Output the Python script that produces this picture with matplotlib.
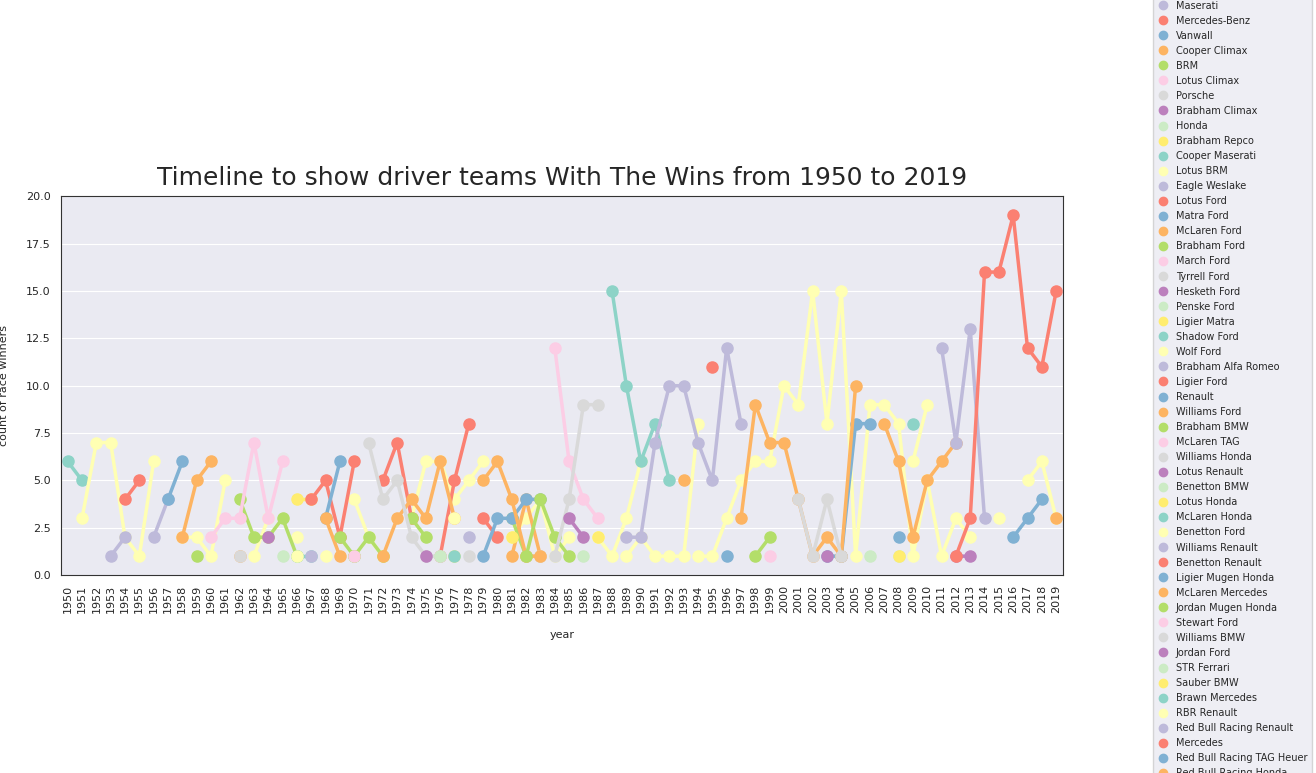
import matplotlib
matplotlib.use("Agg")
import matplotlib.pyplot as plt
import numpy as np
import seaborn as sns

sns.set_style("darkgrid")
plt.rcParams['font.family'] = ['DejaVu Sans']

years = list(range(1950, 2020))

# team -> {year: wins}
team_wins = {
    'Alfa Romeo': {1950: 6, 1951: 5},
    'Ferrari': {1951: 3, 1952: 7, 1953: 7, 1954: 2, 1955: 1, 1956: 6, 1958: 2, 1959: 2,
                1960: 1, 1961: 5, 1963: 1, 1964: 3, 1966: 2, 1968: 1, 1970: 4, 1971: 2,
                1972: 1, 1974: 3, 1975: 6, 1976: 6, 1977: 4, 1978: 5, 1979: 6, 1981: 2,
                1982: 3, 1983: 4, 1984: 1, 1985: 2, 1987: 2, 1988: 1, 1989: 3, 1990: 6,
                1994: 1, 1995: 1, 1996: 3, 1997: 5, 1998: 6, 1999: 6, 2000: 10, 2001: 9,
                2002: 15, 2003: 8, 2004: 15, 2005: 1, 2006: 9, 2007: 9, 2008: 8, 2009: 1,
                2010: 5, 2011: 1, 2012: 3, 2013: 2, 2015: 3, 2017: 5, 2018: 6, 2019: 3},
    'Maserati': {1953: 1, 1954: 2, 1956: 2, 1957: 4},
    'Mercedes-Benz': {1954: 4, 1955: 5},
    'Vanwall': {1957: 4, 1958: 6},
    'Cooper Climax': {1958: 2, 1959: 5, 1960: 6, 1962: 1},
    'BRM': {1959: 1, 1962: 4, 1963: 2, 1964: 2, 1965: 3, 1966: 1, 1970: 1, 1971: 2, 1972: 1},
    'Lotus Climax': {1960: 2, 1961: 3, 1962: 3, 1963: 7, 1964: 3, 1965: 6},
    'Porsche': {1962: 1},
    'Brabham Climax': {1964: 2},
    'Honda': {1965: 1, 2006: 1},
    'Brabham Repco': {1966: 4, 1967: 4},
    'Cooper Maserati': {1966: 1, 1967: 1},
    'Lotus BRM': {1966: 1},
    'Eagle Weslake': {1967: 1},
    'Lotus Ford': {1967: 4, 1968: 5, 1969: 2, 1970: 6, 1972: 5, 1973: 7, 1974: 3,
                   1976: 1, 1977: 5, 1978: 8},
    'Matra Ford': {1968: 3, 1969: 6},
    'McLaren Ford': {1968: 3, 1969: 1, 1972: 1, 1973: 3, 1974: 4, 1975: 3, 1976: 6,
                     1977: 3, 1981: 1, 1982: 4, 1983: 1},
    'Brabham Ford': {1969: 2, 1970: 1, 1974: 3, 1975: 2, 1981: 3, 1982: 1},
    'March Ford': {1970: 1},
    'Tyrrell Ford': {1971: 7, 1972: 4, 1973: 5, 1974: 2, 1975: 1, 1976: 1, 1978: 1,
                     1982: 1, 1983: 1},
    'Hesketh Ford': {1975: 1},
    'Penske Ford': {1976: 1},
    'Ligier Matra': {1977: 1, 1981: 2},
    'Shadow Ford': {1977: 1},
    'Wolf Ford': {1977: 3},
    'Brabham Alfa Romeo': {1978: 2},
    'Ligier Ford': {1979: 3, 1980: 2},
    'Renault': {1979: 1, 1980: 3, 1981: 3, 1982: 4, 1983: 4, 2003: 1, 2004: 1,
                2005: 8, 2006: 8, 2008: 2},
    'Williams Ford': {1979: 5, 1980: 6, 1981: 4, 1982: 1, 1983: 1},
    'Brabham BMW': {1982: 1, 1983: 4, 1984: 2, 1985: 1},
    'McLaren TAG': {1984: 12, 1985: 6, 1986: 4, 1987: 3},
    'Williams Honda': {1984: 1, 1985: 4, 1986: 9, 1987: 9},
    'Lotus Renault': {1985: 3, 1986: 2, 2012: 1, 2013: 1},
    'Benetton BMW': {1986: 1},
    'Lotus Honda': {1987: 2},
    'McLaren Honda': {1988: 15, 1989: 10, 1990: 6, 1991: 8, 1992: 5},
    'Benetton Ford': {1989: 1, 1990: 2, 1991: 1, 1992: 1, 1993: 1, 1994: 8},
    'Williams Renault': {1989: 2, 1990: 2, 1991: 7, 1992: 10, 1993: 10, 1994: 7,
                         1995: 5, 1996: 12, 1997: 8},
    'Benetton Renault': {1995: 11},
    'Ligier Mugen Honda': {1996: 1},
    'McLaren Mercedes': {1993: 5, 1997: 3, 1998: 9, 1999: 7, 2000: 7, 2001: 4, 2002: 1,
                         2003: 2, 2004: 1, 2005: 10, 2007: 8, 2008: 6, 2009: 2,
                         2010: 5, 2011: 6, 2012: 7},
    'Jordan Mugen Honda': {1998: 1, 1999: 2},
    'Stewart Ford': {1999: 1},
    'Williams BMW': {2001: 4, 2002: 1, 2003: 4, 2004: 1},
    'Jordan Ford': {2003: 1},
    'STR Ferrari': {2008: 1},
    'Sauber BMW': {2008: 1},
    'Brawn Mercedes': {2009: 8},
    'RBR Renault': {2009: 6, 2010: 9},
    'Red Bull Racing Renault': {2011: 12, 2012: 7, 2013: 13, 2014: 3},
    'Mercedes': {2012: 1, 2013: 3, 2014: 16, 2015: 16, 2016: 19, 2017: 12, 2018: 11, 2019: 15},
    'Red Bull Racing TAG Heuer': {2016: 2, 2017: 3, 2018: 4},
    'Red Bull Racing Honda': {2019: 3},
}

palette = sns.color_palette("Set3", 12)

fig, ax = plt.subplots(figsize=(13.16, 7.73), dpi=100)
fig.subplots_adjust(left=0.046, right=0.808, top=0.746, bottom=0.256)

x = np.arange(len(years))
for i, (team, d) in enumerate(team_wins.items()):
    ys = np.array([d.get(y, np.nan) for y in years], dtype=float)
    ax.plot(x, ys, '-o', color=palette[i % 12], lw=2.5, ms=8, label=team)

ax.set_xticks(x)
ax.set_xticklabels(years, rotation=90, fontsize=8)
ax.tick_params(axis='y', labelsize=8)
ax.set_xlim(-0.5, len(years) - 0.5)
ax.set_ylim(0, 20)
ax.set_yticks([0, 2.5, 5, 7.5, 10, 12.5, 15, 17.5, 20])
ax.grid(axis='x', visible=False)
for s in ax.spines.values():
    s.set_visible(True)
    s.set_color('#333333')
ax.set_xlabel('year', fontsize=8, labelpad=12)
ax.set_ylabel('count of race winners', fontsize=8, labelpad=12)
ax.set_title('Timeline to show driver teams With The Wins from 1950 to 2019', fontsize=18, pad=8)

leg = ax.legend(loc='center left', bbox_to_anchor=(1.085, 0.53), fontsize=7, frameon=True,
                handlelength=1.0, labelspacing=0.52, borderpad=0.5, markerscale=0.75,
                handletextpad=0.8)
for h in leg.get_lines():
    h.set_linestyle('')

fig.savefig('out.png', dpi=100)
